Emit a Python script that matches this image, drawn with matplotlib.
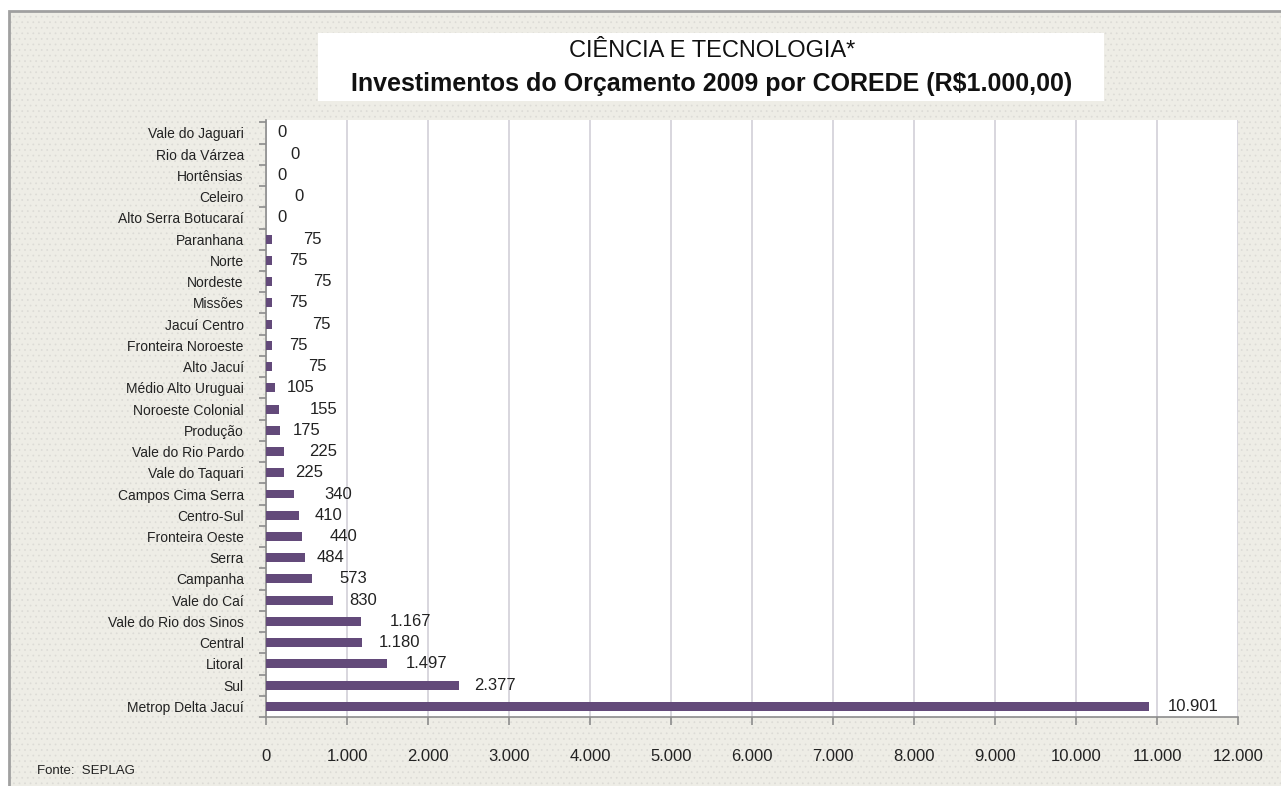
import numpy as np
import matplotlib.pyplot as plt
from matplotlib.patches import Rectangle
from matplotlib.ticker import FuncFormatter

# ----- dados: investimentos do orcamento 2009 por COREDE (R$1.000,00) -----
coredes = ['Vale do Jaguari', 'Rio da Várzea', 'Hortênsias', 'Celeiro',
           'Alto Serra Botucaraí', 'Paranhana', 'Norte', 'Nordeste', 'Missões',
           'Jacuí Centro', 'Fronteira Noroeste', 'Alto Jacuí', 'Médio Alto Uruguai',
           'Noroeste Colonial', 'Produção', 'Vale do Rio Pardo', 'Vale do Taquari',
           'Campos Cima Serra', 'Centro-Sul', 'Fronteira Oeste', 'Serra', 'Campanha',
           'Vale do Caí', 'Vale do Rio dos Sinos', 'Central', 'Litoral', 'Sul',
           'Metrop Delta Jacuí']
valores = [0, 0, 0, 0, 0, 75, 75, 75, 75, 75, 75, 75, 105, 155, 175, 225, 225,
           340, 410, 440, 484, 573, 830, 1167, 1180, 1497, 2377, 10901]
xticks = np.arange(0, 12001, 1000)

# deslocamento dos rotulos (pixels) - no original eles ficam "pulando"
label_dx = [11, 24, 11, 28, 11, 31, 17, 41, 17, 40, 17, 36, 12, 31, 13, 25, 11,
            31, 15, 28, 11, 27, 16, 29, 17, 18, 16, 19]

fonte = ['Liberation Sans', 'DejaVu Sans']

def br_fmt(v, pos=None):
    return '{:,.0f}'.format(v).replace(',', '.')

plt.rcParams['hatch.linewidth'] = 0.5

fig = plt.figure(figsize=(12.81, 7.86), dpi=100)
fig.patch.set_facecolor('white')

# fundo bege pontilhado
fig.patches.append(Rectangle((9/1281, 0), 1.0, 1 - 11/786, transform=fig.transFigure,
                             facecolor='#EEEDE6', edgecolor='#DCDBD6', linewidth=0,
                             hatch='...', zorder=-3))
# borda cinza
fig.patches.append(Rectangle((9/1281, -0.01), 1.0, 1.01 - 11/786, transform=fig.transFigure,
                             facecolor='none', edgecolor='#A0A0A0', linewidth=2,
                             zorder=-2))

# caixa do titulo
fig.patches.append(Rectangle((318/1281, 1 - 101/786), (1104-318)/1281, 68/786,
                             transform=fig.transFigure, facecolor='white',
                             edgecolor='none', zorder=-1))
fig.text(712/1281, 1 - 51/786, 'CIÊNCIA E TECNOLOGIA*', ha='center', va='center',
         fontsize=17, family=fonte, color='#111111')
fig.text(712/1281, 1 - 84/786, 'Investimentos do Orçamento 2009 por COREDE (R$1.000,00)',
         ha='center', va='center', fontsize=18, fontweight='bold', family=fonte,
         color='#111111')

ax = fig.add_axes([266/1281, 1 - 717/786, (1238-266)/1281, (717-120)/786])
ax.set_zorder(2)
ax.set_facecolor('white')

ypos = np.arange(len(coredes))
ax.barh(ypos, valores, height=0.42, color='#634A7A', zorder=3)

for i in range(len(valores)):
    ax.annotate(br_fmt(valores[i]), (valores[i], ypos[i]), xytext=(label_dx[i], 0),
                textcoords='offset pixels', ha='left', va='center',
                fontsize=12, family=fonte, color='#222222', zorder=4)

ax.set_xlim(0, 12000)
ax.set_ylim(27.42, -0.61)
ax.set_xticks(xticks)
ax.xaxis.set_major_formatter(FuncFormatter(br_fmt))
ax.set_yticks(ypos)
ax.set_yticklabels(coredes)
ax.set_yticks(np.arange(-0.5, len(coredes), 1), minor=True)

ax.grid(axis='x', color='#D2D0D8', linewidth=1.2, zorder=0)
ax.set_axisbelow(True)

for s in ['top', 'right']:
    ax.spines[s].set_visible(False)
for s in ['left', 'bottom']:
    ax.spines[s].set_color('#8C8C8C')
    ax.spines[s].set_linewidth(1.2)

ax.tick_params(axis='y', which='major', length=0, pad=16, labelsize=10,
               labelcolor='#222222')
ax.tick_params(axis='y', which='minor', length=5, color='#8C8C8C', width=1.2)
ax.tick_params(axis='x', length=6, color='#8C8C8C', width=1.2, pad=17,
               labelsize=12, labelcolor='#222222')
for lb in ax.get_yticklabels() + ax.get_xticklabels():
    lb.set_family(fonte)

fig.text(37/1281, 1 - 771/786, 'Fonte:  SEPLAG', ha='left', va='center',
         fontsize=9.5, family=fonte, color='#222222')

fig.savefig('out.png', dpi=100, facecolor=fig.get_facecolor())
